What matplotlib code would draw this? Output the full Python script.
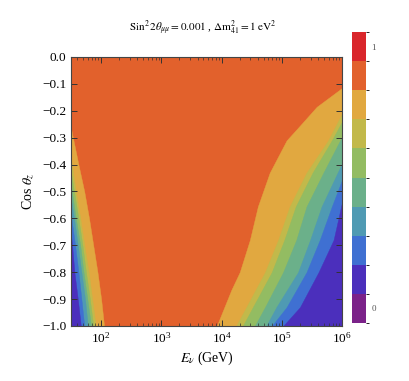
import matplotlib
matplotlib.use("Agg")
import matplotlib.pyplot as plt
import numpy as np
from matplotlib.colors import ListedColormap, BoundaryNorm
from matplotlib.cm import ScalarMappable

plt.rcParams['font.family'] = ['Liberation Serif', 'DejaVu Serif']
plt.rcParams['mathtext.fontset'] = 'stix'
plt.rcParams['axes.unicode_minus'] = True

# ---- data ----
level_values = [0.8, 0.7, 0.6, 0.5, 0.4, 0.3, 0.2]   # contour levels of the boundaries
bin_edges = [0.0, 0.1, 0.2, 0.3, 0.4, 0.5, 0.6, 0.7, 0.8, 0.9, 1.0]
bin_colors = ['#7B2289', '#4B2FBC', '#3F70D2', '#4F9AB3', '#6BB08A',
              '#93BC62', '#C2B94A', '#E1A840', '#E2612C', '#D9262B']
background_value = 0.85

# Low-energy side: contour crossings (cos theta_z, E in GeV)
left_cos_08 = [-0.265, -0.3, -0.4, -0.5, -0.6, -0.7, -0.8, -0.9, -1.0]
left_E_08 = [31.6, 34, 42, 52.5, 63, 74, 87, 100, 112]
left_cos_07 = [-0.38, -0.5, -0.6, -0.7, -0.8, -0.9, -1.0]
left_E_07 = [31.6, 38, 45, 52.5, 62, 71, 81]
left_cos_06 = [-0.43, -0.5, -0.6, -0.7, -0.8, -0.9, -1.0]
left_E_06 = [31.6, 35.5, 42, 49, 56, 65, 74]
left_cos_05 = [-0.48, -0.6, -0.7, -0.8, -0.9, -1.0]
left_E_05 = [31.6, 38, 45, 51, 59, 68]
left_cos_04 = [-0.53, -0.6, -0.7, -0.8, -0.9, -1.0]
left_E_04 = [31.6, 35.5, 41, 47, 54, 60]
left_cos_03 = [-0.59, -0.7, -0.8, -0.9, -1.0]
left_E_03 = [31.6, 37, 42, 47, 52.5]
left_cos_02 = [-0.66, -0.7, -0.8, -0.9, -1.0]
left_E_02 = [31.6, 33, 36, 41, 46]

# High-energy side: contour crossings (cos theta_z, E in GeV)
right_cos_08 = [-0.115, -0.185, -0.26, -0.31, -0.43, -0.556, -0.68, -0.80, -0.866, -1.0]
right_E_08 = [1e6, 380000, 191000, 120000, 63000, 40000, 29500, 20000, 14500, 8300]
right_cos_07 = [-0.21, -0.31, -0.43, -0.556, -0.68, -0.80, -0.93, -1.0]
right_E_07 = [1e6, 589000, 257000, 135000, 87000, 52500, 25700, 17400]
right_cos_06 = [-0.24, -0.31, -0.43, -0.556, -0.68, -0.80, -0.93, -1.0]
right_E_06 = [1e6, 676000, 324000, 170000, 110000, 68000, 33000, 22400]
right_cos_05 = [-0.296, -0.43, -0.556, -0.68, -0.80, -0.93, -1.0]
right_E_05 = [1e6, 490000, 257000, 174000, 105000, 52500, 35500]
right_cos_04 = [-0.395, -0.556, -0.68, -0.80, -0.93, -1.0]
right_E_04 = [1e6, 457000, 295000, 186000, 81000, 55000]
right_cos_03 = [-0.457, -0.556, -0.68, -0.80, -0.93, -1.0]
right_E_03 = [1e6, 676000, 427000, 257000, 120000, 68000]
right_cos_02 = [-0.54, -0.68, -0.80, -0.93, -1.0]
right_E_02 = [1e6, 724000, 407000, 200000, 105000]

x_range = [10 ** 1.5, 1e6]
y_range = [-1.0, 0.0]
y_ticks = [0.0, -0.1, -0.2, -0.3, -0.4, -0.5, -0.6, -0.7, -0.8, -0.9, -1.0]

# ---- drawing ----
cmap = ListedColormap(bin_colors)
norm = BoundaryNorm(bin_edges, cmap.N)

fig = plt.figure(figsize=(4.09, 3.81), dpi=100)
ax = fig.add_axes([0.1736, 0.1444, 0.6626, 0.706])
ax.set_xscale('log')
ax.set_xlim(*x_range)
ax.set_ylim(*y_range)
ax.set_facecolor(cmap(norm(background_value)))

left_sets = [(left_cos_08, left_E_08), (left_cos_07, left_E_07), (left_cos_06, left_E_06),
             (left_cos_05, left_E_05), (left_cos_04, left_E_04), (left_cos_03, left_E_03),
             (left_cos_02, left_E_02)]
right_sets = [(right_cos_08, right_E_08), (right_cos_07, right_E_07), (right_cos_06, right_E_06),
              (right_cos_05, right_E_05), (right_cos_04, right_E_04), (right_cos_03, right_E_03),
              (right_cos_02, right_E_02)]

for lev, (cs, es) in zip(level_values, left_sets):
    col = cmap(norm(lev - 0.05))
    ax.fill_betweenx(cs, x_range[0], es, color=col, linewidth=0.3, edgecolor=col)
for lev, (cs, es) in zip(level_values, right_sets):
    col = cmap(norm(lev - 0.05))
    ax.fill_betweenx(cs, es, x_range[1], color=col, linewidth=0.3, edgecolor=col)

ax.set_yticks(y_ticks)
ax.set_yticklabels([f"{v:.1f}".replace('-', '\u2212') if v != 0 else "0.0" for v in y_ticks])
ax.tick_params(axis='both', which='major', direction='in', top=True, right=True,
               length=4, width=0.7, labelsize=9.5, color='#333333')
ax.tick_params(axis='x', which='minor', direction='in', top=True, length=2, width=0.5, color='#333333')
for s in ax.spines.values():
    s.set_color('#444444')
    s.set_linewidth(0.8)

ax.set_xlabel(r'$E_\nu$ (GeV)', fontsize=10, labelpad=3)
ax.set_ylabel(r'Cos $\theta_z$', fontsize=10, labelpad=4)
fig.text(0.495, 0.925,
         r'$\mathrm{Sin}^2\,2\theta_{\mu\mu}=0.001$ , $\Delta\mathrm{m}^2_{41}=1\ \mathrm{eV}^2$',
         ha='center', va='center', fontsize=8)

cax = fig.add_axes([0.8606, 0.1522, 0.0342, 0.7638])
sm = ScalarMappable(norm=norm, cmap=cmap)
cb = fig.colorbar(sm, cax=cax, ticks=[0.05, 0.95])
cb.ax.set_yticklabels(['0', '1'])
cb.outline.set_visible(False)
cb.ax.tick_params(length=0, labelsize=6.5, colors='#555555', pad=4)

fig.savefig('out.png', dpi=100)
